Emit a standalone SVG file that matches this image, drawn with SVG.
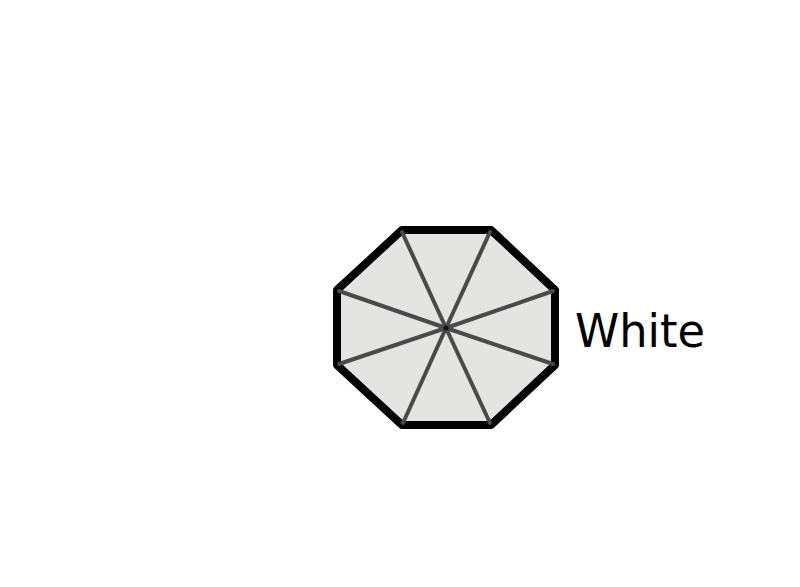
<svg xmlns="http://www.w3.org/2000/svg" width="800" height="587" viewBox="0 0 800 587">
<style>
.oct{fill:#e4e4e3;stroke:#000;stroke-width:8;stroke-linejoin:round}
.spoke{stroke:#4a4a4a;stroke-width:4;stroke-linecap:round}
.lbl{font-family:"DejaVu Sans","Liberation Sans",sans-serif;font-size:46px;fill:#000}
</style>
<rect width="800" height="587" fill="#fff"/>
<g id="octagon">
<polygon class="oct" points="402,230 491,230 555,290 555,365 491,425 402,425 337,365 337,290"/>
</g>
<g id="spokes">
<line class="spoke" x1="446" y1="328" x2="402" y2="232"/>
<line class="spoke" x1="446" y1="328" x2="490" y2="232"/>
<line class="spoke" x1="446" y1="328" x2="553" y2="291"/>
<line class="spoke" x1="446" y1="328" x2="553" y2="364"/>
<line class="spoke" x1="446" y1="328" x2="490" y2="423"/>
<line class="spoke" x1="446" y1="328" x2="403" y2="423"/>
<line class="spoke" x1="446" y1="328" x2="339" y2="364"/>
<line class="spoke" x1="446" y1="328" x2="339" y2="291"/>
<circle cx="446" cy="328" r="2.5" fill="#111"/>
</g>
<g id="label">
<text class="lbl" x="575" y="347" textLength="130" lengthAdjust="spacingAndGlyphs">White</text>
</g>
</svg>
